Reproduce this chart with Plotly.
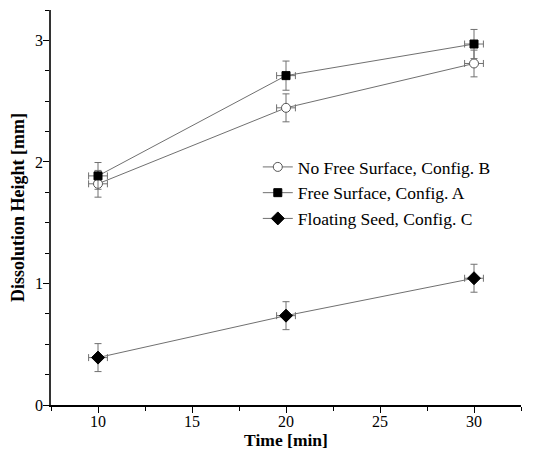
import plotly.graph_objects as go

time = [10, 20, 30]
config_b = [1.82, 2.445, 2.81]
config_a = [1.885, 2.71, 2.97]
config_c = [0.39, 0.735, 1.043]
err_y_b = [0.11, 0.115, 0.11]
err_y_a = [0.11, 0.12, 0.12]
err_y_c = [0.115, 0.115, 0.115]
err_x = [0.5, 0.5, 0.5]

names = ["No Free Surface, Config. B", "Free Surface, Config. A", "Floating Seed, Config. C"]

FONT = "Liberation Serif"
LINE_C = "#707070"

fig = go.Figure()

def add(y, ey, name, symbol, fill, size):
    fig.add_trace(go.Scatter(
        x=time, y=y, name=name, mode="lines+markers",
        line=dict(color=LINE_C, width=1),
        marker=dict(symbol=symbol, size=size, color=fill,
                    line=dict(color="#555555" if fill == "white" else "black", width=1)),
        error_y=dict(type="data", array=ey, color=LINE_C, thickness=1, width=3.5),
        error_x=dict(type="data", array=err_x, color=LINE_C, thickness=1, width=3.5),
    ))

add(config_b, err_y_b, names[0], "circle", "white", 9)
add(config_a, err_y_a, names[1], "square", "black", 8)
add(config_c, err_y_c, names[2], "diamond", "black", 10)

fig.update_layout(
    width=533, height=447,
    margin=dict(l=43, r=20, t=2, b=50),
    paper_bgcolor="white", plot_bgcolor="white",
    font=dict(family=FONT, color="black", size=16),
    showlegend=True,
    legend=dict(x=0.44, y=0.648, xanchor="left", yanchor="top",
                font=dict(family=FONT, size=17.5, color="black"),
                bgcolor="rgba(0,0,0,0)", tracegroupgap=0, itemwidth=30),
    xaxis=dict(
        range=[7.5, 32.5], tickmode="array", tickvals=[10, 15, 20, 25, 30],
        showline=True, linecolor="black", linewidth=1.5, mirror=False,
        ticks="outside", ticklen=6, tickwidth=1, tickcolor="black",
        minor=dict(ticks="outside", ticklen=4, dtick=2.5, tick0=0, tickcolor="black"),
        showgrid=False, zeroline=False, automargin=False,
        tickfont=dict(family=FONT, size=16), ticklabelstandoff=-5,
        title=dict(text="<b>Time [min]</b>", font=dict(family=FONT, size=17.5), standoff=0),
    ),
    yaxis=dict(
        range=[0, 3.25], tickmode="array", tickvals=[0, 1, 2, 3],
        showline=True, linecolor="#333333", linewidth=1.5, mirror=False,
        ticks="outside", ticklen=6, tickwidth=1, tickcolor="black",
        minor=dict(ticks="outside", ticklen=4, dtick=0.25, tick0=0, tickcolor="black"),
        showgrid=False, zeroline=False, automargin=False,
        tickfont=dict(family=FONT, size=16), ticklabelstandoff=-3,
        title=dict(text="<b>Dissolution Height [mm]</b>", font=dict(family=FONT, size=18), standoff=8),
    ),
)

fig.write_html("out.html")
